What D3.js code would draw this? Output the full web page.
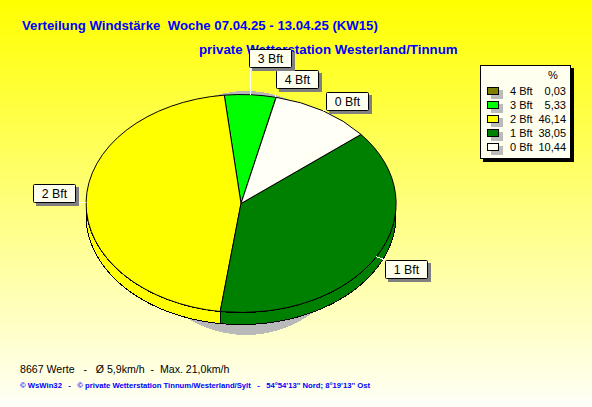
<!DOCTYPE html>
<html><head><meta charset="utf-8">
<script src="https://cdn.jsdelivr.net/npm/d3@7"></script>
<style>
html,body{margin:0;padding:0;background:#fff;overflow:hidden}
svg{display:block}
text{font-family:"Liberation Sans",Arial,sans-serif}
</style></head><body>
<svg id="c" width="592" height="407"></svg>
<script>
const categories = ["4 Bft","3 Bft","2 Bft","1 Bft","0 Bft"];
const values = [0.03,5.33,46.14,38.05,10.44];
const valueLabels = ["0,03","5,33","46,14","38,05","10,44"];
const colors = ["#808000","#00ff00","#ffff00","#008000","#fffff5"];
const titleLines = ["Verteilung Windstärke  Woche 07.04.25 - 13.04.25 (KW15)","private Wetterstation Westerland/Tinnum"];
const footerLine = "8667 Werte   -   Ø 5,9km/h  -  Max. 21,0km/h";
const creditLine = "© WsWin32   -   © private Wetterstation Tinnum/Westerland/Sylt   -   54°54'13'' Nord; 8°19'13'' Ost";
const labelOffsets = [[0,-27],[-1,-46],[-53,-18],[9,3],[3,-19]];

const W=592,H=407,cx=241,cy=203.5,rx=155,ry=109,depth=12;
const svg=d3.select("#c");
const defs=svg.append("defs");
const g=defs.append("linearGradient").attr("id","bg").attr("x1",0).attr("y1",0).attr("x2",0).attr("y2",1);
g.append("stop").attr("offset",0).attr("stop-color","#ffff00");
g.append("stop").attr("offset",1).attr("stop-color","#fffff8");
svg.append("rect").attr("width",W).attr("height",H).attr("fill","url(#bg)");

// titles
svg.append("text").attr("x",22).attr("y",30).attr("fill","#0000ff").attr("font-weight","bold").attr("font-size",13.2).style("white-space","pre").text(titleLines[0]);
svg.append("text").attr("x",199).attr("y",54).attr("fill","#0000ff").attr("font-weight","bold").attr("font-size",13.3).text(titleLines[1]);

// shadow
svg.append("ellipse").attr("cx",246).attr("cy",213).attr("rx",116).attr("ry",122).attr("fill","#b9b9b9").attr("shape-rendering","crispEdges");

const rad=Math.PI/180;
const startA=13.1*rad;
const pie=d3.pie().sort(null).startAngle(startA).endAngle(startA-2*Math.PI).value(d=>d);
const arcs=pie(values);
const px=a=>cx+rx*Math.sin(a), py=a=>cy-ry*Math.cos(a);
const line=d3.line();

// side band of the pie
const TAU=2*Math.PI;
arcs.forEach((d,i)=>{
  let a0=d.endAngle,a1=d.startAngle; // a0<a1
  while(a1<Math.PI/2){a0+=TAU;a1+=TAU}
  const lo=Math.max(a0,Math.PI/2),hi=Math.min(a1,1.5*Math.PI);
  if(hi<=lo) return;
  const n=Math.max(2,Math.ceil((hi-lo)/rad));
  const as=d3.range(n+1).map(k=>lo+(hi-lo)*k/n);
  const pts=as.map(a=>[px(a),py(a)]).concat(as.slice().reverse().map(a=>[px(a),py(a)+depth]));
  svg.append("path").attr("d",line(pts)+"Z").attr("fill",colors[i]).attr("stroke","#000").attr("stroke-width",1).attr("shape-rendering","crispEdges");
});

// top face
const arc=d3.arc().innerRadius(0).outerRadius(1);
svg.append("g").attr("transform",`translate(${cx},${cy}) scale(${rx},${ry})`)
 .selectAll("path").data(arcs).join("path")
 .attr("d",d=>arc({...d,startAngle:d.endAngle,endAngle:d.startAngle}))
 .attr("fill",(d,i)=>colors[i]).attr("stroke","#000").attr("stroke-width",1)
 .attr("vector-effect","non-scaling-stroke").attr("shape-rendering","crispEdges");

// labels
const bw=43,bh=19;
arcs.forEach((d,i)=>{
  const m=(d.startAngle+d.endAngle)/2;
  const ax=px(m),ay=py(m);
  const x=Math.round(ax+labelOffsets[i][0]), y=Math.round(ay+labelOffsets[i][1]);
  const L=svg.append("g");
  const tx=Math.max(x,Math.min(ax,x+bw)), ty=Math.max(y,Math.min(ay,y+bh));
  L.append("line").attr("x1",ax).attr("y1",ay).attr("x2",tx).attr("y2",ty).attr("stroke","#fff").attr("stroke-width",1).attr("shape-rendering","crispEdges");
  L.append("rect").attr("x",x+3).attr("y",y+3).attr("width",bw).attr("height",bh).attr("fill","#808080").attr("shape-rendering","crispEdges");
  L.append("rect").attr("x",x+.5).attr("y",y+.5).attr("width",bw-1).attr("height",bh-1).attr("rx",1).attr("fill","#fffff0").attr("stroke","#000");
  L.append("text").attr("x",x+bw/2).attr("y",y+14).attr("text-anchor","middle").attr("font-size",12.3).attr("fill","#000").text(categories[i]);
});

// legend
svg.append("rect").attr("x",483).attr("y",68).attr("width",91).attr("height",94).attr("fill","#000");
svg.append("rect").attr("x",480.5).attr("y",65.5).attr("width",90).attr("height",93).attr("fill","#fffff0").attr("stroke","#000");
svg.append("text").attr("x",553).attr("y",79).attr("text-anchor","middle").attr("font-size",11).text("%");
const rowY=d3.scaleBand().domain(categories).range([84,154]);
categories.forEach((c,i)=>{
  const yc=rowY(c)+rowY.bandwidth()/2, top=Math.round(yc)-4;
  svg.append("rect").attr("x",491).attr("y",top+3).attr("width",12).attr("height",9).attr("fill","#bbb");
  svg.append("rect").attr("x",487.5).attr("y",top+.5).attr("width",11).attr("height",7).attr("fill",colors[i]).attr("stroke","#000");
  svg.append("text").attr("x",510).attr("y",yc+4).attr("font-size",11).text(c);
  svg.append("text").attr("x",566).attr("y",yc+4).attr("text-anchor","end").attr("font-size",11).text(valueLabels[i]);
});

// footer
svg.append("text").attr("x",20).attr("y",373).attr("font-size",10.6).style("white-space","pre").text(footerLine);
svg.append("text").attr("x",20).attr("y",388).attr("font-size",7.7).attr("font-weight","bold").attr("fill","#0000ff").style("white-space","pre").text(creditLine);
</script></body></html>
